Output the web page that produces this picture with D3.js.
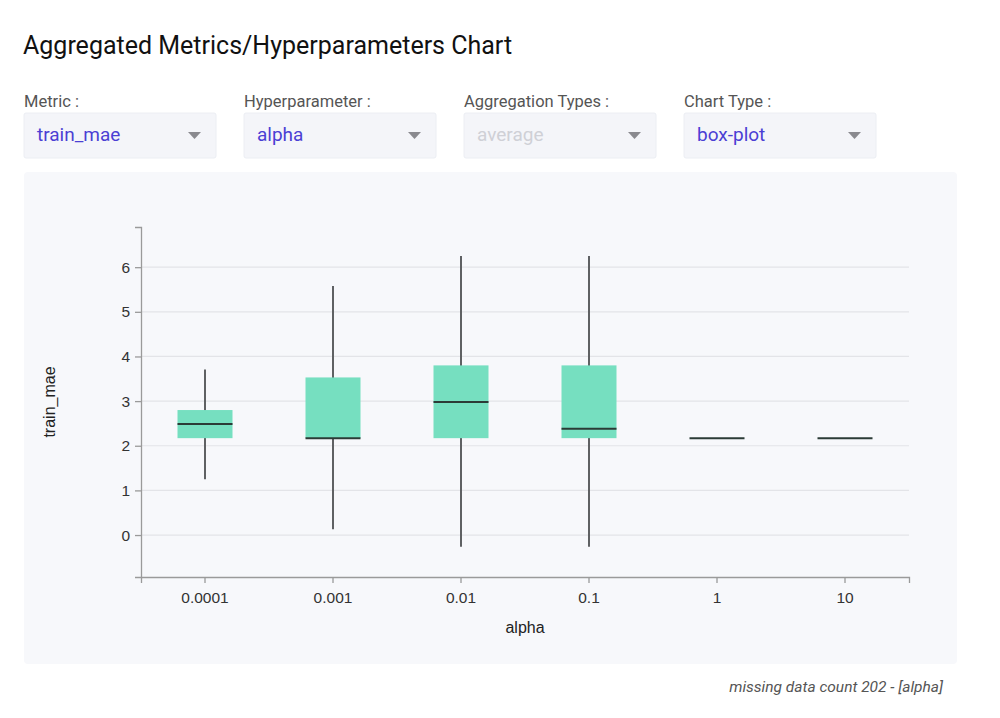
<!DOCTYPE html>
<html>
<head>
<meta charset="utf-8">
<script src="https://cdn.jsdelivr.net/npm/d3@7"></script>
<style>
  body { margin: 0; background: #fff; }
  svg text { font-family: Roboto, "Liberation Sans", sans-serif; }
  svg text.plain { font-family: "Liberation Sans", Arial, sans-serif; }
</style>
</head>
<body>
<svg id="chart" width="1000" height="718"></svg>
<script>
const WIDTH = 1000;
const HEIGHT = 718;

// data
const categories = ["0.0001", "0.001", "0.01", "0.1", "1", "10"];
const whiskerLow = [1.25, 0.13, -0.26, -0.26, 2.17, 2.17];
const q1 = [2.17, 2.17, 2.17, 2.17, 2.17, 2.17];
const median = [2.49, 2.17, 2.98, 2.38, 2.17, 2.17];
const q3 = [2.80, 3.53, 3.80, 3.80, 2.17, 2.17];
const whiskerHigh = [3.71, 5.58, 6.25, 6.25, 2.17, 2.17];
const yTicks = [0, 1, 2, 3, 4, 5, 6];

const controls = [
  {label: "Metric :", value: "train_mae", disabled: false},
  {label: "Hyperparameter :", value: "alpha", disabled: false},
  {label: "Aggregation Types :", value: "average", disabled: true},
  {label: "Chart Type :", value: "box-plot", disabled: false}
];

const boxes = categories.map((c, i) => ({
  cat: c, lo: whiskerLow[i], q1: q1[i], med: median[i], q3: q3[i], hi: whiskerHigh[i]
}));

const svg = d3.select("#chart");

// title
svg.append("text")
  .attr("x", 23).attr("y", 54)
  .attr("font-size", 25)
  .attr("fill", "#111")
  .text("Aggregated Metrics/Hyperparameters Chart");

// dropdowns
const ctrl = svg.selectAll("g.ctrl")
  .data(controls)
  .enter().append("g")
  .attr("class", "ctrl")
  .attr("transform", (d, i) => `translate(${24 + i * 220},0)`);

ctrl.append("text")
  .attr("x", 0).attr("y", 107)
  .attr("font-size", 16.5)
  .attr("fill", "#555")
  .text(d => d.label);

ctrl.append("rect")
  .attr("x", 0).attr("y", 113)
  .attr("width", 192).attr("height", 45)
  .attr("rx", 2)
  .attr("fill", "#f4f5f9")
  .attr("stroke", "#eceef3");

ctrl.append("text")
  .attr("x", 13).attr("y", 141)
  .attr("font-size", 19)
  .attr("fill", d => d.disabled ? "#cfd0d6" : "#4b3fd4")
  .text(d => d.value);

ctrl.append("path")
  .attr("d", "M164,132 L177,132 L170.5,139 Z")
  .attr("fill", "#8a8a8f");

// panel
svg.append("rect")
  .attr("x", 24).attr("y", 172)
  .attr("width", 933).attr("height", 492)
  .attr("rx", 4)
  .attr("fill", "#f7f8fb");

// scales
const x = d3.scaleBand().domain(categories).range([141, 909]);
const y = d3.scaleLinear().domain([-0.94, 6.9]).range([577, 227]);
const boxW = 55;

// grid
svg.append("g")
  .selectAll("line")
  .data(yTicks)
  .enter().append("line")
  .attr("x1", 141).attr("x2", 909)
  .attr("y1", d => y(d)).attr("y2", d => y(d))
  .attr("stroke", "#e3e4e8")
  .attr("stroke-width", 1.2);

// axes
const yAxis = svg.append("g")
  .attr("transform", "translate(141,0)")
  .call(d3.axisLeft(y).tickValues(yTicks).tickSize(6).tickPadding(5));
const xAxis = svg.append("g")
  .attr("transform", "translate(0,577)")
  .call(d3.axisBottom(x).tickSize(6).tickPadding(9));

[yAxis, xAxis].forEach(a => {
  a.selectAll("path, line").attr("stroke", "#9a9a9a").attr("stroke-width", 1.3);
  a.selectAll("text")
    .attr("class", "plain")
    .attr("fill", "#333")
    .attr("font-size", 15.5);
});

// boxes
const g = svg.append("g")
  .selectAll("g")
  .data(boxes)
  .enter().append("g")
  .attr("transform", d => `translate(${x(d.cat) + x.bandwidth() / 2},0)`);

g.append("line")
  .attr("x1", 0).attr("x2", 0)
  .attr("y1", d => y(d.hi)).attr("y2", d => y(d.lo))
  .attr("stroke", "#5f6163")
  .attr("stroke-width", 2);

g.append("rect")
  .attr("x", -boxW / 2).attr("width", boxW)
  .attr("y", d => y(d.q3))
  .attr("height", d => y(d.q1) - y(d.q3))
  .attr("fill", "#76dfc0");

g.append("line")
  .attr("x1", -boxW / 2).attr("x2", boxW / 2)
  .attr("y1", d => y(d.med)).attr("y2", d => y(d.med))
  .attr("stroke", "#2b3b36")
  .attr("stroke-width", 2);

// axis titles
svg.append("text")
  .attr("class", "plain")
  .attr("transform", `translate(55,${(y(6.9) + y(-0.94)) / 2}) rotate(-90)`)
  .attr("text-anchor", "middle")
  .attr("font-size", 16)
  .attr("fill", "#222")
  .text("train_mae");

svg.append("text")
  .attr("class", "plain")
  .attr("x", 525).attr("y", 633)
  .attr("text-anchor", "middle")
  .attr("font-size", 16)
  .attr("fill", "#222")
  .text("alpha");

// footer
svg.append("text")
  .attr("x", 943).attr("y", 692)
  .attr("text-anchor", "end")
  .attr("font-size", 15.5)
  .attr("font-style", "italic")
  .attr("fill", "#555")
  .text("missing data count 202 - [alpha]");
</script>
</body>
</html>
